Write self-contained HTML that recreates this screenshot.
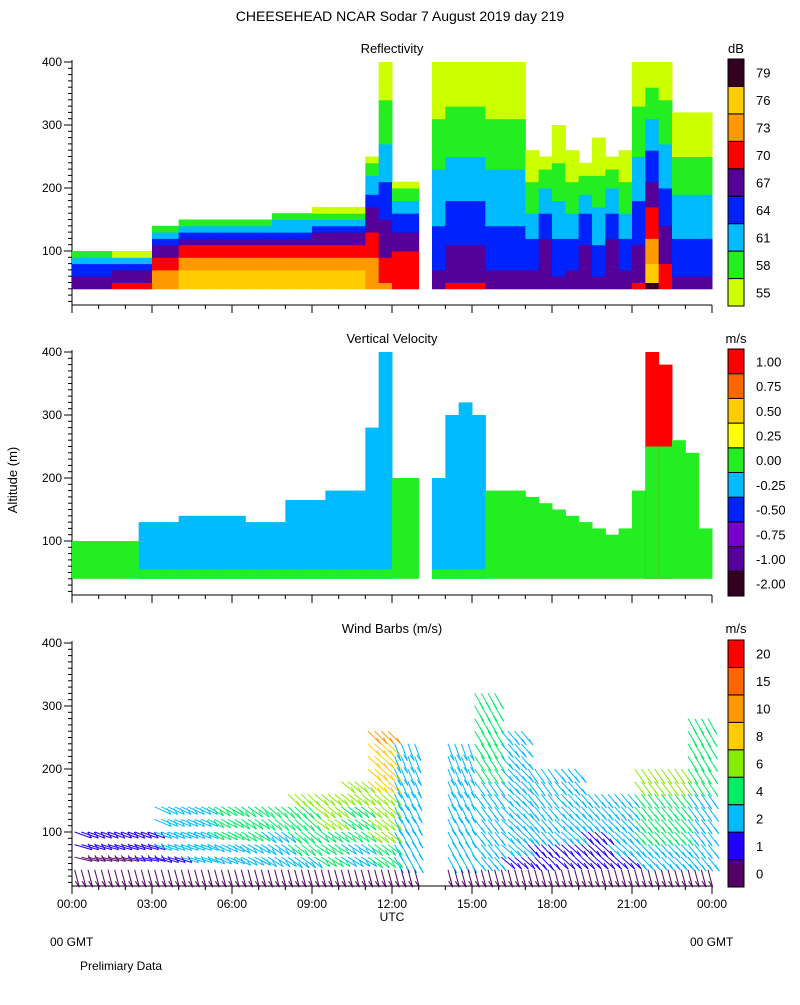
<!DOCTYPE html>
<html><head><meta charset="utf-8">
<style>
body{margin:0;background:#fff;}
svg text{font-family:"Liberation Sans",sans-serif;font-size:12px;fill:#000;}
</style></head><body>
<svg id="s" width="800" height="1000" xmlns="http://www.w3.org/2000/svg">
<text x="400" y="21" text-anchor="middle" style="font-size:14px">CHEESEHEAD  NCAR Sodar   7 August 2019  day 219</text>
<text x="392" y="53" text-anchor="middle" style="font-size:13px">Reflectivity</text>
<text x="392" y="343" text-anchor="middle" style="font-size:13px">Vertical Velocity</text>
<text x="392" y="633" text-anchor="middle" style="font-size:13px">Wind Barbs (m/s)</text>
<text x="736" y="53" text-anchor="middle" style="font-size:13px">dB</text>
<text x="736" y="343" text-anchor="middle" style="font-size:13px">m/s</text>
<text x="736" y="633" text-anchor="middle" style="font-size:13px">m/s</text>
<text transform="translate(17,480) rotate(-90)" text-anchor="middle" style="font-size:13px">Altitude (m)</text>
<text x="392" y="921" text-anchor="middle">UTC</text>
<text x="50" y="946">00 GMT</text>
<text x="690" y="946">00 GMT</text>
<text x="80" y="970">Prelimiary Data</text>
<g id="plots"></g>
</svg>
<script>
// Reflectivity: half-hourly columns (48), bottom dB and top height (m); null = gap
const reflBottom=[68,68,68,70,70,70,75,75,78,78,78,78,78,78,78,77,77,77,77,77,77,77,74,73,72,72,
 null,68,70,70,70,68,68,68,69,69,68,69,69,68,69,69,70,79,72,68,68,68];
const reflTop=[100,100,100,95,95,95,140,140,150,150,150,150,150,150,150,160,160,160,165,165,165,165,250,400,210,210,
 null,400,400,400,400,400,400,400,260,250,300,260,240,280,250,260,400,400,400,320,320,320];
const reflLabels=["55","58","61","64","67","70","73","76","79"];
const reflColors=["#ccff00","#22ee22","#00bbff","#0022ff","#550099","#ff0000","#ff9900","#ffcc00","#330022"];
// Vertical velocity: half-hourly top height and class index
const vvTop=[100,100,100,100,100,130,130,130,140,140,140,140,140,130,130,130,165,165,165,180,180,180,280,400,200,200,
 null,200,300,320,300,180,180,180,170,160,150,140,130,120,110,120,180,400,380,260,240,120];
const vvClass=[5,5,5,5,5,4,4,4,4,4,4,4,4,4,4,4,4,4,4,4,4,4,4,4,5,5,
 null,4,4,4,4,5,5,5,5,5,5,5,5,5,5,5,5,9,9,5,5,5];
const vvLabels=["-2.00","-1.00","-0.75","-0.50","-0.25","0.00","0.25","0.50","0.75","1.00"];
const vvColors=["#330022","#550099","#7700cc","#0022ff","#00bbff","#22ee22","#ffff00","#ffcc00","#ff6600","#ff0000"];
// Wind: hourly top height, mid-level speed (m/s), direction (deg from horizontal)
const windTop=[100,100,100,140,140,140,140,140,160,160,180,260,240,null,240,320,260,200,200,160,160,200,200,280];
const windSpeed=[1,1,1.5,2.5,3,4,4,3.5,5,6,5,8,3,null,3,4,3,2.5,2.5,2,2.5,5,5,4];
const windDir=[-10,-10,-10,-15,-15,-20,-25,-30,-35,-30,-30,-35,-60,null,-60,-50,-40,-45,-40,-40,-40,-45,-45,-50];
const windLabels=["0","1","2","4","6","8","10","15","20"];
const windColors=["#550066","#2200ff","#00bbff","#00ee66","#88ee00","#ffcc00","#ff9900","#ff6600","#ff0000"];
const windBreaks=[0,1,2,4,6,8,10,15,20];
const xTicks=["00:00","03:00","06:00","09:00","12:00","15:00","18:00","21:00","00:00"];

const NS="http://www.w3.org/2000/svg";
const g=document.getElementById('plots');
const X0=72,X1=712;
const xs=h=>X0+(X1-X0)*h/24;
function mk(t,a,p){const e=document.createElementNS(NS,t);for(const k in a)e.setAttribute(k,a[k]);(p||g).appendChild(e);return e;}
const panels=[60,350,641];
function ys(p,alt){return panels[p]+2+(400-alt)*0.63;}

panels.forEach((top,p)=>{
  const bot=top+245;
  const ax=mk('g',{});
  
  
  mk('line',{x1:X0,y1:top,x2:X0,y2:bot,stroke:'#000'},ax);
  mk('line',{x1:X0,y1:bot,x2:X1,y2:bot,stroke:'#000'},ax);
  for(let a=20;a<=400;a+=10){const y=ys(p,a);if(y<top-1)continue;const maj=a%100==0;
    mk('line',{x1:X0-(maj?8:4),y1:y,x2:X0,y2:y,stroke:'#000'},ax);
    if(maj){const t=mk('text',{x:X0-10,y:y+4,'text-anchor':'end'},ax);t.textContent=a;}}
  for(let h=0;h<=24;h++){const x=xs(h);mk('line',{x1:x,y1:bot,x2:x,y2:bot+(h%3==0?8:4),stroke:'#000'},ax);}
  if(p==2){xTicks.forEach((l,i)=>{const t=mk('text',{x:xs(i*3),y:bot+22,'text-anchor':'middle'},ax);t.textContent=l;
    });}
});

function cbar(p,colors,labels,name){
  const top=panels[p]-1,h=247,n=colors.length,bh=h/n;
  const cg=mk('g',{});
  colors.forEach((c,i)=>{const y=top+h-(i+1)*bh;
    const r=mk('rect',{x:728,y:y,width:16,height:bh,fill:c,stroke:'#000'},cg);
    
    const t=mk('text',{x:756,y:y+bh/2+5},cg);t.textContent=labels[i];t.style.fontSize='13px';
    });
}
cbar(0,reflColors,reflLabels,'reflectivity-colorbar');
cbar(1,vvColors,vvLabels,'velocity-colorbar');
cbar(2,windColors,windLabels,'wind-colorbar');

const rg=mk('g',{});
const cw=(X1-X0)/reflBottom.length;
reflBottom.forEach((b,i)=>{if(b===null)return;const tp=reflTop[i];
  for(let a=40;a<tp;a+=10){const f=(a-40)/(tp-40);const v=b+(55-b)*Math.pow(f,tp>250?0.9:1.8);
    let k=Math.floor((v-55)/3);if(k<0)k=0;if(k>8)k=8;
    const y=ys(0,a+10);
    const r=mk('rect',{x:X0+i*cw,y:y,width:cw+0.5,height:6.8,fill:reflColors[k]},rg);
    }
});
const vg=mk('g',{});
const cw2=(X1-X0)/vvTop.length;
vvTop.forEach((tp,i)=>{if(tp===null)return;
  const y=ys(1,tp),y0=ys(1,40);
  const r=mk('rect',{x:X0+i*cw2,y:y,width:cw2+0.5,height:y0-y,fill:vvColors[vvClass[i]]},vg);
  
  if(vvClass[i]!=5){const gl=vvClass[i]==9?250:55;
    const r2=mk('rect',{x:X0+i*cw2,y:ys(1,gl),width:cw2+0.5,height:y0-ys(1,gl),fill:vvColors[5]},vg);
    }
});
const wg=mk('g',{});
function wcol(s){let k=0;windBreaks.forEach((b,i)=>{if(s>=b)k=i;});return windColors[k];}
windTop.forEach((tp,i)=>{if(tp===null)return;
  for(let sub=0;sub<4;sub++){const h=i+sub/4+0.1;
    for(let a=40;a<=tp;a+=20){
      const frac=(a-40)/Math.max(tp-40,1);
      const s=a==40?0.6:windSpeed[i]*(0.6+0.7*frac);
      const ang=(a==40?-75:windDir[i]-10*frac)*Math.PI/180;
      const x=xs(h),y=ys(2,a),L=18;
      const x2=x+L*Math.cos(ang),y2=y+L*Math.sin(ang)*-1;
      const c=wcol(s);
      const l=mk('line',{x1:x,y1:y,x2:x2,y2:y2,stroke:c,'stroke-width':1},wg);
      
      const t=mk('line',{x1:x2,y1:y2,x2:x2-4,y2:y2-6,stroke:c},wg);
      
    }}
});
</script>
</body></html>
